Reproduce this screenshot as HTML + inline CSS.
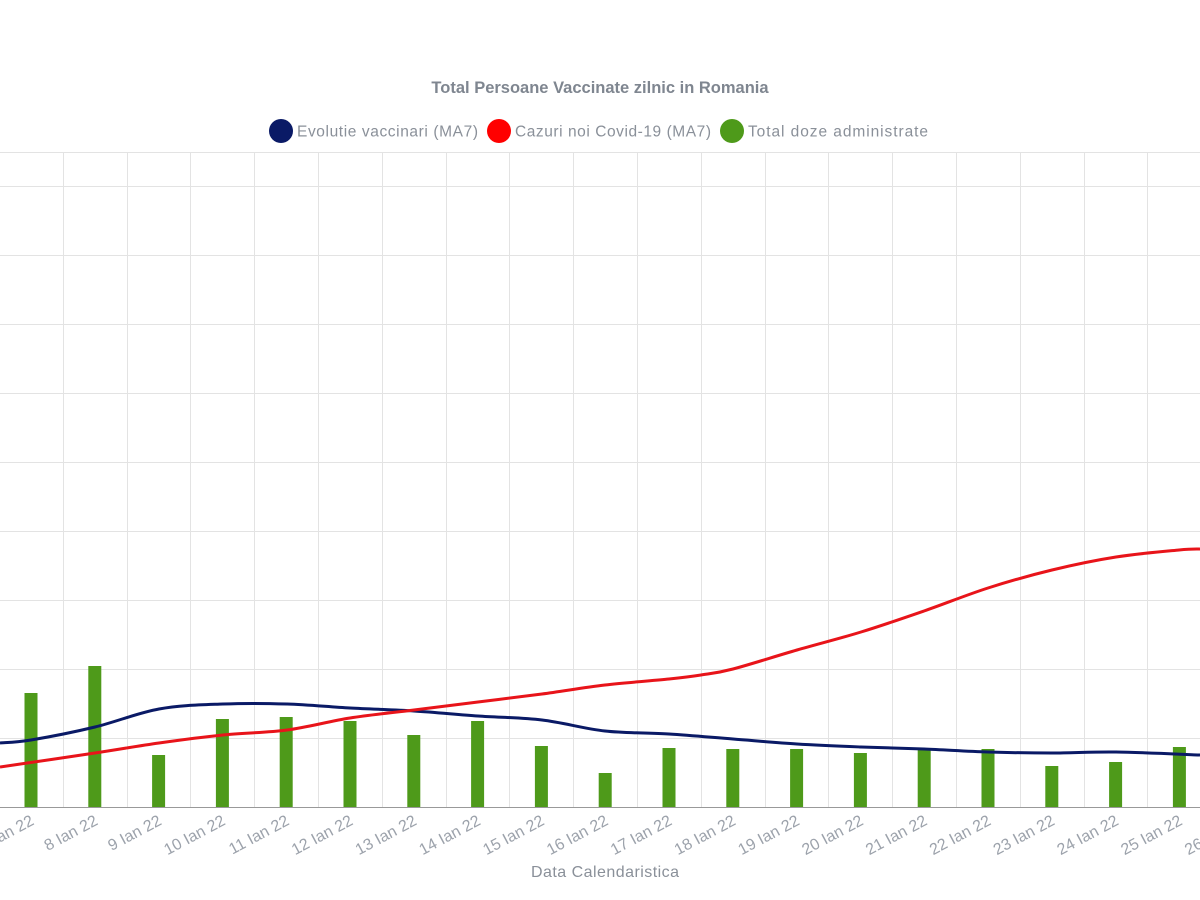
<!DOCTYPE html>
<html><head><meta charset="utf-8"><style>
html,body{margin:0;padding:0;background:#fff;width:1200px;height:900px;overflow:hidden}
text{font-family:"Liberation Sans",sans-serif}
</style></head><body>
<svg width="1200" height="900" xmlns="http://www.w3.org/2000/svg">
<g stroke="#e3e3e3" stroke-width="1" id="grid"></g>
<line x1="0" y1="807.5" x2="1200" y2="807.5" stroke="#999" stroke-width="1"/>
<g id="bars" fill="#4e9a1a"></g>
<path id="blue" fill="none" stroke="#0a1a66" stroke-width="3"/>
<path id="red" fill="none" stroke="#e8141a" stroke-width="3"/>
<g id="labels" font-size="16" fill="#9ca2ab"></g>
<text x="600" y="93" text-anchor="middle" font-size="16.5" font-weight="bold" fill="#7f8690">Total Persoane Vaccinate zilnic in Romania</text>
<circle cx="281" cy="131" r="12" fill="#0a1a66"/>
<text x="297" y="136.5" font-size="15.5" fill="#8a9099" textLength="181">Evolutie vaccinari (MA7)</text>
<circle cx="499" cy="131" r="12" fill="#f00"/>
<text x="515" y="136.5" font-size="15.5" fill="#8a9099" textLength="196">Cazuri noi Covid-19 (MA7)</text>
<circle cx="732" cy="131" r="12" fill="#4e9a1a"/>
<text x="748" y="136.5" font-size="15.5" fill="#8a9099" textLength="180">Total doze administrate</text>
<text x="605" y="877" text-anchor="middle" font-size="16" fill="#8a9099" textLength="148">Data Calendaristica</text>
</svg>
<script>
var ns="http://www.w3.org/2000/svg";
function el(p,t,a){var e=document.createElementNS(ns,t);for(var k in a)e.setAttribute(k,a[k]);p.appendChild(e);return e;}
var g=document.getElementById('grid');
el(g,'line',{x1:0,y1:152.5,x2:1200,y2:152.5});
for(var y=186;y<807;y+=69)el(g,'line',{x1:0,y1:y+.5,x2:1200,y2:y+.5});
for(var i=0;i<20;i++){var x=Math.round(31+63.8*i-32)+.5;el(g,'line',{x1:x,y1:152,x2:x,y2:807});}
var tops=[693,666,755,719,717,721,735,721,746,773,748,749,749,753,748,749,766,762,747];
var b=document.getElementById('bars');
tops.forEach(function(t,i){var x=31+63.8*i;el(b,'rect',{x:x-6.5,y:t,width:13,height:807-t});});
var L=document.getElementById('labels');
for(var i=-1;i<20;i++){var x=31+63.8*i+4,d=7+i;var t=el(L,'text',{x:x,y:824,'text-anchor':'end',transform:'rotate(-28 '+x+' 824)'});t.textContent=d+' Ian 22';}
function smooth(pts){var d='M'+pts[0][0]+','+pts[0][1];for(var i=0;i<pts.length-1;i++){var p0=pts[i-1]||pts[i],p1=pts[i],p2=pts[i+1],p3=pts[i+2]||p2;d+=' C'+(p1[0]+(p2[0]-p0[0])/6)+','+(p1[1]+(p2[1]-p0[1])/6)+' '+(p2[0]-(p3[0]-p1[0])/6)+','+(p2[1]-(p3[1]-p1[1])/6)+' '+p2[0]+','+p2[1];}return d;}
document.getElementById('blue').setAttribute('d',smooth([[0,743],[31,740],[95,727],[159,709],[223,704],[287,704],[350,708],[414,711],[478,716],[542,720],[605,731],[669,734],[733,739],[797,744],[861,747],[924,749],[988,752],[1052,753],[1116,752],[1200,755]]));
document.getElementById('red').setAttribute('d',smooth([[0,767],[95,753],[159,743],[223,735],[287,730],[350,718],[414,710],[478,702],[542,694],[605,685],[669,679],[701,675],[733,669],[797,650],[861,632],[924,611],[988,588],[1052,570],[1116,557],[1179,550],[1200,549]]));
</script>
</body></html>
